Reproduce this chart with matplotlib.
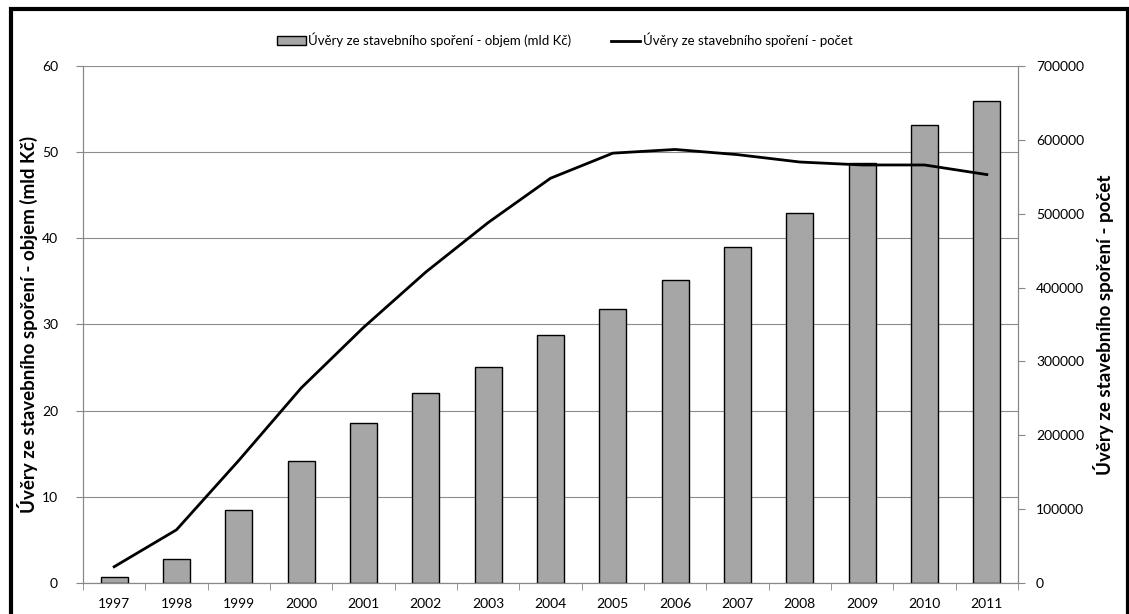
import numpy as np
import matplotlib.pyplot as plt
from matplotlib.patches import Rectangle

years = ["1997", "1998", "1999", "2000", "2001", "2002", "2003", "2004",
         "2005", "2006", "2007", "2008", "2009", "2010", "2011"]
objem = [0.7, 2.8, 8.5, 14.2, 18.6, 22.0, 25.1, 28.8, 31.8, 35.2, 39.0, 42.9, 48.8, 53.1, 55.9]
pocet = [22000, 72000, 166000, 264000, 346000, 421000, 488000, 548000,
         582000, 587000, 580000, 570000, 566000, 566000, 553000]
label_objem = "Úvěry ze stavebního spoření - objem (mld Kč)"
label_pocet = "Úvěry ze stavebního spoření - počet"

plt.rcParams['font.family'] = ['Lato', 'DejaVu Sans']

fig = plt.figure(figsize=(11.29, 6.14), dpi=100)
ax = fig.add_axes([0.0735, 0.0505, 0.8282, 0.842])
ax2 = ax.twinx()

x = np.arange(len(years))
bars = ax.bar(x, objem, width=0.43, color="#a6a6a6", edgecolor="black", linewidth=1.0, zorder=3,
              label=label_objem)
line, = ax2.plot(x, pocet, color="black", linewidth=2, zorder=4, label=label_pocet)

ax.set_xlim(-0.5, len(years) - 0.5)
ax.set_ylim(0, 60)
ax.set_yticks(np.arange(0, 61, 10))
ax2.set_ylim(0, 700000)
ax2.set_yticks(np.arange(0, 700001, 100000))

ax.set_xticks(x)
ax.set_xticklabels(years, fontsize=10)
ax.set_xticks(np.arange(-0.5, len(years), 1), minor=True)
ax.tick_params(axis='x', which='major', length=0, pad=11)
ax.tick_params(axis='x', which='minor', length=5, color="#888888")
ax.tick_params(axis='y', labelsize=10, length=5, color="#888888", pad=13)
ax2.tick_params(axis='y', labelsize=10, length=5, color="#888888", pad=8)

ax.grid(True, axis='y', color="#8c8c8c", linewidth=0.8, zorder=0)
ax.set_axisbelow(True)
for a in (ax, ax2):
    a.spines['top'].set_visible(False)
    for s in ('left', 'right', 'bottom'):
        a.spines[s].set_color("#888888")

ax.set_ylabel(label_objem, fontsize=13.5, fontweight='bold', labelpad=3)
ax2.set_ylabel(label_pocet, fontsize=13.5, fontweight='bold', labelpad=6)

fig.legend([bars, line], [label_objem, label_pocet], loc='center', bbox_to_anchor=(0.5, 0.935),
           ncol=2, frameon=False, fontsize=9.5, columnspacing=3, handlelength=2.2, handletextpad=0.2)

# outer frame
fig.patches.append(Rectangle((0.0095, -0.01), 0.99, 0.995, transform=fig.transFigure,
                             fill=False, edgecolor="black", linewidth=3))

fig.savefig("out.png", dpi=100)
